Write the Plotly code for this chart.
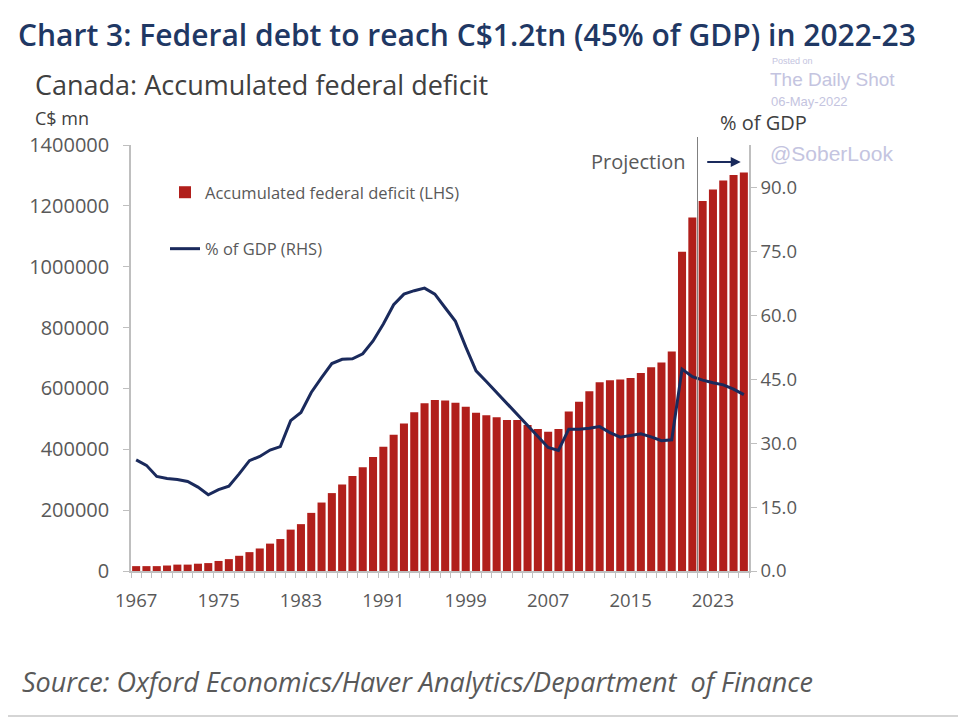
import plotly.graph_objects as go

years = list(range(1967, 2027))
deficit = [16000, 16000, 16000, 18000, 21000, 21000, 24000, 26000, 33000, 39000,
           50000, 62000, 74000, 90000, 105000, 136000, 154000, 191000, 225000, 256000,
           284000, 312000, 341000, 375000, 408000, 448000, 485000, 522000, 551000, 562000,
           560000, 553000, 540000, 520000, 512000, 505000, 496000, 496000, 480000, 467000,
           458000, 467000, 524000, 556000, 591000, 620000, 627000, 629000, 634000, 651000,
           670000, 685000, 721000, 1049000, 1162000, 1216000, 1254000, 1283000, 1301000, 1310000]
pct_gdp = [26.1, 24.8, 22.2, 21.7, 21.5, 21.0, 19.7, 17.9, 19.1, 19.9,
           22.8, 25.9, 26.9, 28.4, 29.2, 35.3, 37.2, 41.9, 45.4, 48.7,
           49.7, 49.8, 51.0, 54.0, 58.0, 62.5, 65.0, 65.8, 66.4, 65.0,
           61.8, 58.6, 52.6, 47.0, 44.5, 41.9, 39.3, 36.8, 34.1, 31.4,
           29.0, 28.3, 33.3, 33.3, 33.5, 33.9, 32.5, 31.4, 31.8, 32.2,
           31.5, 30.6, 30.8, 47.4, 45.6, 44.8, 44.2, 43.7, 42.7, 41.4]
x_tick_years = [1967, 1975, 1983, 1991, 1999, 2007, 2015, 2023]
left_ticks = [0, 200000, 400000, 600000, 800000, 1000000, 1200000, 1400000]
right_ticks = [0, 15, 30, 45, 60, 75, 90]
projection_start = 2021.5

RED = "#B11F1B"
NAVY = "#1A2A5C"
GRAY = "#595959"
AXIS = "#BFBFBF"
WM = "#C4C4E0"
FONT = "Open Sans"

# page body has an 8px margin; figure is sized so it ends at the window edge
OFF = 8
W, H = 966 - OFF, 720 - OFF
L, R, T, B = 131, 749, 145, 571  # plot area in window pixels


def px(xp):
    return (xp - L) / (R - L)


def py(yp):
    return (B - yp) / (B - T)


fig = go.Figure()
fig.add_trace(go.Bar(x=years, y=deficit, name="Accumulated federal deficit (LHS)",
                     marker=dict(color=RED, line=dict(width=0)), legendgroup="a"))
fig.add_trace(go.Scatter(x=years, y=pct_gdp, name="% of GDP (RHS)", yaxis="y2",
                         mode="lines", line=dict(color=NAVY, width=3), legendgroup="b"))

minor_vals = [y - 0.5 for y in years] + [years[-1] + 0.5]

fig.update_layout(
    width=W, height=H,
    margin=dict(l=L - OFF, r=W - (R - OFF), t=T - OFF, b=H - (B - OFF), pad=0),
    paper_bgcolor="white", plot_bgcolor="white",
    font=dict(family=FONT, color=GRAY),
    bargap=0.22,
    showlegend=True,
    legend=dict(x=px(165), y=py(175), xanchor="left", yanchor="top",
                font=dict(size=16.5, color=GRAY, family=FONT),
                bgcolor="rgba(0,0,0,0)", tracegroupgap=32, itemwidth=30),
    xaxis=dict(range=[years[0] - 0.5, years[-1] + 0.5], tickvals=x_tick_years,
               ticks="", showline=True, linecolor=AXIS, linewidth=1.5,
               showgrid=False, zeroline=False, ticklabelstandoff=12,
               tickfont=dict(size=18.5, color=GRAY),
               minor=dict(tickvals=minor_vals, ticks="outside", ticklen=5,
                          tickcolor=AXIS, showgrid=False)),
    yaxis=dict(range=[0, 1400000], tickvals=left_ticks, tickformat="d",
               ticks="outside", ticklen=6, tickcolor=AXIS, showline=True,
               linecolor=AXIS, linewidth=1.5, showgrid=False, zeroline=False,
               ticklabelstandoff=10, tickfont=dict(size=20, color=GRAY)),
    yaxis2=dict(range=[0, 100], tickvals=right_ticks, tickformat=".1f",
                overlaying="y", side="right", ticks="outside", ticklen=6,
                tickcolor=AXIS, showline=True, linecolor=AXIS, linewidth=1.5,
                showgrid=False, zeroline=False, tickfont=dict(size=18.5, color=GRAY)),
)

watermarks = [
    dict(text="Posted on", x=771, y=61, size=9),
    dict(text="The Daily Shot", x=769, y=80, size=19),
    dict(text="06-May-2022", x=770, y=101, size=13),
    dict(text="@SoberLook", x=769, y=153, size=21),
]
for a in watermarks:
    fig.add_annotation(text=a["text"], xref="paper", yref="paper", x=px(a["x"]), y=py(a["y"]),
                       xanchor="left", yanchor="middle", showarrow=False, borderpad=0,
                       font=dict(size=a["size"], color=WM, family="Liberation Sans"))

fig.add_annotation(text="Chart 3: Federal debt to reach C$1.2tn (45% of GDP) in 2022-23",
                   xref="paper", yref="paper", x=px(17), y=py(34.5), xanchor="left", yanchor="middle",
                   showarrow=False, borderpad=0,
                   font=dict(size=30, color="#1F3864", family=FONT, weight=600))
fig.add_annotation(text="Canada: Accumulated federal deficit",
                   xref="paper", yref="paper", x=px(33), y=py(84), xanchor="left", yanchor="middle",
                   showarrow=False, font=dict(size=27, color="#404040", family=FONT))
fig.add_annotation(text="C$ mn", xref="paper", yref="paper", x=px(33), y=py(118),
                   xanchor="left", yanchor="middle", showarrow=False,
                   font=dict(size=18, color="#404040", family=FONT))
fig.add_annotation(text="% of GDP", xref="paper", yref="paper", x=px(809), y=py(122),
                   xanchor="right", yanchor="middle", showarrow=False,
                   font=dict(size=20, color="#404040", family=FONT))
fig.add_annotation(text="Source: Oxford Economics/Haver Analytics/Department  of Finance",
                   xref="paper", yref="paper", x=px(20), y=py(681), xanchor="left", yanchor="middle",
                   showarrow=False, font=dict(size=27, color=GRAY, family=FONT, style="italic"))

# projection marker
fig.add_shape(type="line", xref="x", yref="paper", x0=projection_start, x1=projection_start,
              y0=0, y1=py(137), line=dict(color="#808080", width=1))
fig.add_annotation(text="Projection", xref="x", yref="paper", x=projection_start - 0.9, y=py(161),
                   xanchor="right", yanchor="middle", showarrow=False,
                   font=dict(size=20, color=GRAY, family=FONT))
fig.add_annotation(text="", xref="x", yref="paper", x=years[-1] - 0.3, y=py(162),
                   axref="x", ayref="pixel", ax=projection_start + 0.8, ay=0,
                   showarrow=True, arrowhead=2, arrowsize=1, arrowwidth=2, arrowcolor=NAVY)

# outer frame
fig.add_shape(type="rect", xref="paper", yref="paper", x0=px(2), x1=px(963), y0=py(716), y1=py(2),
              line=dict(color="#C8C8C8", width=1.5), fillcolor="rgba(0,0,0,0)", layer="below")

fig.write_html("out.html")
